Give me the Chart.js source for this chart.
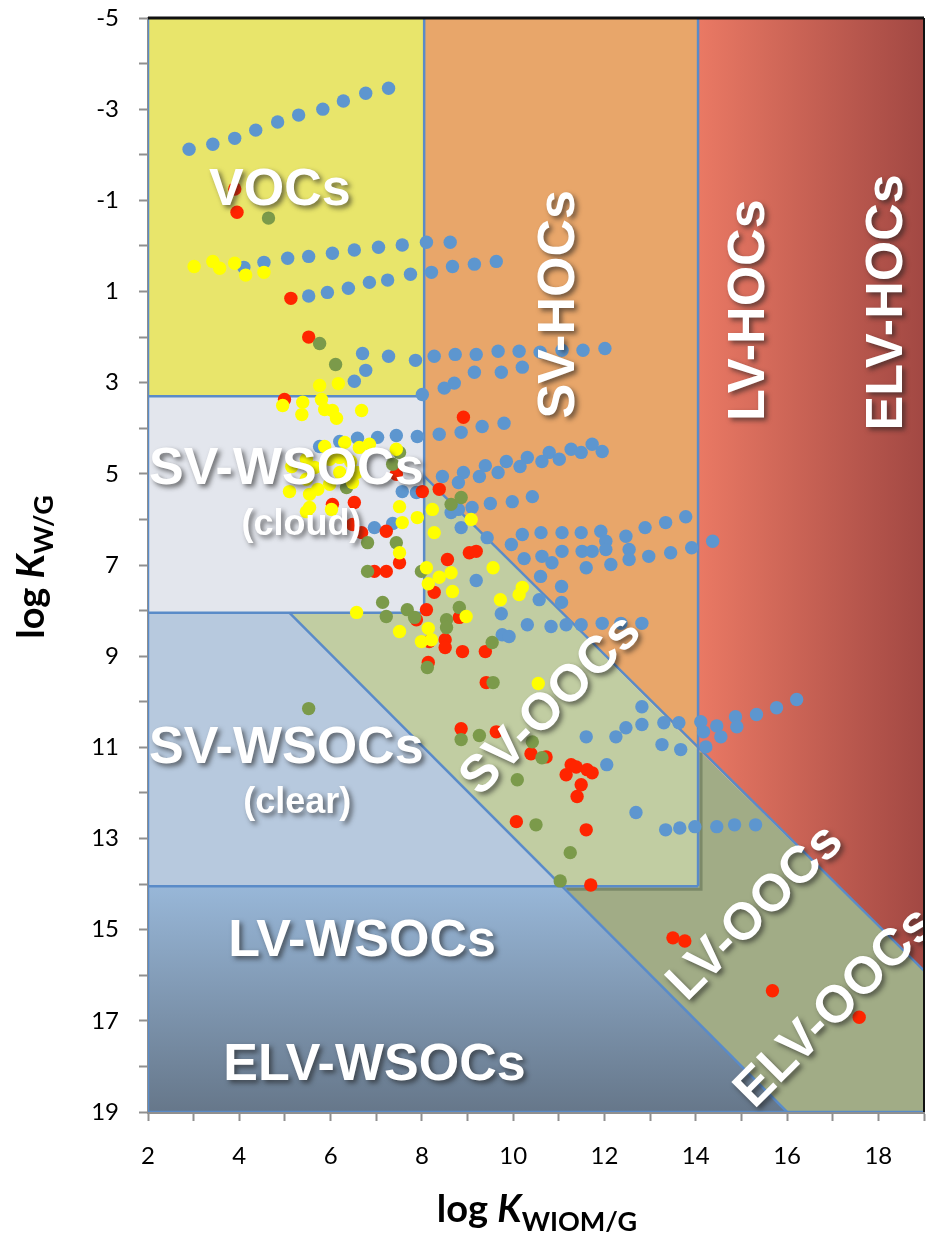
<!DOCTYPE html>
<html>
<head>
<meta charset="utf-8">
<script src="https://cdn.jsdelivr.net/npm/chart.js@4.4.1/dist/chart.umd.min.js"></script>
<style>
  html, body { margin: 0; padding: 0; background: #ffffff; }
  canvas { display: block; }
</style>
</head>
<body>
<canvas id="chart" width="938" height="1240"></canvas>
<script>
// ---- axis tick labels ----
const xTickLabels = [2, 4, 6, 8, 10, 12, 14, 16, 18];
const yTickLabels = [-5, -3, -1, 1, 3, 5, 7, 9, 11, 13, 15, 17, 19];

// ---- compounds: [log K_WIOM/G, log K_W/G] ----
const bluePoints = [
  [2.90,-2.12],[3.42,-2.23],[3.90,-2.36],[4.36,-2.54],[4.84,-2.72],[5.30,-2.87],[5.83,-3.00],[6.28,-3.18],[6.77,-3.35],[7.27,-3.46],
  [4.10,0.47],[4.54,0.36],[5.06,0.27],[5.52,0.23],[6.04,0.16],[6.52,0.09],[7.05,0.03],[7.57,-0.02],[8.10,-0.08],[8.62,-0.08],
  [5.52,1.10],[5.93,1.02],[6.39,0.93],[6.85,0.80],[7.25,0.75],[7.75,0.62],[8.21,0.58],[8.67,0.45],[9.15,0.40],[9.63,0.34],
  [6.70,2.36],[7.27,2.42],[7.86,2.51],[8.27,2.42],[8.73,2.38],[9.19,2.38],[9.67,2.31],[10.13,2.31],[10.59,2.33],[11.07,2.29],[11.53,2.29],[12.01,2.25],
  [6.52,2.97],[6.77,2.73],[8.01,3.26],[8.49,3.12],[8.71,3.01],[9.15,2.77],[9.74,2.77],[10.20,2.66],
  [5.76,4.40],[6.20,4.29],[6.59,4.22],[7.03,4.20],[7.44,4.16],[7.90,4.18],[8.38,4.13],[8.86,4.09],[9.32,3.96],[9.80,3.89],
  [8.91,4.97],[9.39,4.82],[9.85,4.73],[10.31,4.64],[10.79,4.53],[11.27,4.46],[11.73,4.35],
  [7.57,5.39],[7.88,5.41],[8.45,5.06],[8.80,5.19],[9.26,5.06],[9.67,4.97],[10.15,4.84],[10.63,4.73],[11.01,4.68],[11.49,4.53],[11.95,4.51],
  [8.64,5.85],[9.10,5.74],[9.50,5.65],[9.98,5.61],[10.42,5.50],[8.80,5.78],
  [9.43,6.40],[9.96,6.55],[10.20,6.33],[10.61,6.29],[11.07,6.29],[11.49,6.29],[11.92,6.26],[12.47,6.37],[12.89,6.18],[13.34,6.07],[13.78,5.94],
  [10.24,6.86],[10.63,6.81],[10.85,6.95],[11.07,6.70],[11.51,6.70],[11.60,7.06],[11.73,6.70],[12.03,6.48],[12.03,6.66],[12.14,6.99],
  [12.54,6.66],[12.54,6.88],[12.97,6.81],[13.45,6.73],[13.91,6.62],[14.37,6.48],
  [10.60,7.25],[11.06,7.47],[11.06,7.82],[10.57,7.76],[9.19,7.34],[8.86,6.18],[9.74,8.07],[9.76,8.53],[9.91,8.57],
  [6.96,6.18],[7.36,6.09],
  [10.31,8.31],[10.83,8.35],[11.16,8.31],[11.49,8.31],[11.95,8.28],[12.36,8.28],[12.82,8.28],
  [12.82,10.11],[12.47,10.57],[12.25,10.77],[11.60,10.77],[12.82,10.50],[12.05,11.38],[12.69,12.43],
  [13.30,10.46],[13.63,10.46],[14.11,10.44],[14.46,10.53],[14.87,10.33],[14.90,10.55],[15.33,10.28],[15.77,10.13],[16.21,9.95],
  [13.26,10.94],[13.67,11.05],[14.17,10.66],[14.22,10.99],[14.55,10.77],
  [13.34,12.81],[13.65,12.77],[13.98,12.74],[14.46,12.74],[14.85,12.70],[15.31,12.70]
];

const redPoints = [
  [3.90,-1.25],[3.95,-0.74],[5.13,1.15],[5.52,2.00],[4.99,3.37],[8.91,3.76],
  [7.44,5.01],[8.01,5.39],[8.38,5.34],[6.04,5.67],[6.52,5.63],[6.48,6.11],[6.68,6.29],[7.22,6.26],
  [7.51,6.95],[7.22,7.14],[6.96,7.14],[8.56,6.88],[9.04,6.73],[9.19,6.70],
  [8.27,7.60],[8.10,7.98],[7.88,8.20],[8.82,8.15],[8.51,8.64],[8.51,8.81],[8.89,8.90],[9.39,8.90],[8.16,8.68],[8.14,9.14],[9.41,9.58],
  [8.86,10.59],[9.63,10.66],[10.39,11.14],[10.72,11.21],
  [11.27,11.38],[11.38,11.43],[11.16,11.60],[11.62,11.49],[11.73,11.56],[11.49,11.82],[11.40,12.08],
  [10.07,12.63],[11.60,12.81],[11.70,14.02],
  [13.50,15.18],[13.76,15.25],[15.68,16.34],[17.58,16.92]
];

const greenPoints = [
  [4.64,-0.61],[5.76,2.14],[6.11,2.60],[7.51,4.53],[7.36,4.79],[6.35,5.30],[8.64,5.67],[8.86,5.52],
  [6.81,6.51],[7.44,6.51],[6.81,7.14],[7.99,7.14],[7.14,7.82],[7.22,8.13],[7.68,7.98],[7.84,8.15],
  [8.54,8.20],[8.54,8.37],[8.82,7.93],[9.54,8.70],[8.12,9.25],[9.56,9.58],[5.52,10.15],
  [8.86,10.83],[9.26,10.74],[10.42,10.88],[10.63,11.23],[10.09,11.71],[10.50,12.70],[11.25,13.31],[11.03,13.93]
];

const yellowPoints = [
  [3.01,0.45],[3.42,0.34],[3.57,0.49],[3.90,0.38],[4.14,0.64],[4.54,0.58],
  [5.76,3.06],[6.17,3.02],[4.95,3.50],[5.39,3.43],[5.37,3.70],[5.80,3.37],[5.87,3.59],[6.04,3.61],[6.13,3.78],[6.68,3.61],
  [5.87,4.40],[6.31,4.31],[6.63,4.42],[6.85,4.35],[7.44,4.46],[5.47,4.68],[5.98,4.68],[6.20,4.64],[6.44,4.73],[5.15,4.84],
  [5.65,4.86],[6.20,4.97],[6.57,4.97],[5.47,5.12],[5.98,5.23],[6.48,5.19],[5.10,5.39],[5.54,5.45],[5.72,5.34],[5.54,5.74],
  [6.02,5.78],[5.47,5.83],
  [7.51,5.72],[8.23,5.78],[7.90,5.96],[7.57,6.07],[8.27,6.29],[9.08,6.00],[7.51,6.73],
  [8.10,7.06],[8.38,7.27],[8.14,7.41],[8.64,7.17],[8.67,7.58],[9.56,7.06],[9.72,7.76],[10.13,7.65],[10.20,7.49],
  [6.57,8.04],[7.51,8.46],[8.14,8.39],[8.97,8.13],[7.99,8.68],[8.21,8.64],[10.55,9.60]
];

// ---- partitioning-space regions (vertices in axis units) ----
const vocsRegion      = [[2,-5],[8.05,-5],[8.05,3.3],[2,3.3]];
const cloudRegion     = [[2,3.3],[8.05,3.3],[8.05,8.05],[2,8.05]];
const clearRegion     = [[2,8.05],[5.1,8.05],[11.1,14.05],[2,14.05]];
const wsocLowRegion   = [[2,14.05],[11.1,14.05],[16,19],[2,19]];
const svHocRegion     = [[8.05,-5],[14.05,-5],[14.05,11.05],[8.05,5.05]];
const lvHocRegion     = [[14.05,-5],[19,-5],[19,15.9],[14.05,11.05]];
const svOocRegion     = [[5.1,8.05],[8.05,8.05],[8.05,5.05],[14.05,11.05],[14.05,14.05],[11.1,14.05]];
const lvOocRegion     = [[11.1,14.05],[14.05,14.05],[14.05,11.05],[19,15.9],[19,19],[16,19]];

const boundaryLines = [
  [[8.05,-5],[8.05,8.05]],
  [[2,3.3],[8.05,3.3]],
  [[2,8.05],[8.05,8.05]],
  [[2,14.05],[14.05,14.05]],
  [[14.05,-5],[14.05,14.05]],
  [[5.1,8.05],[16,19]],
  [[8.05,5.05],[19,15.9]],
  [[2,-5],[2,19]],
  [[2,19],[19,19]]
];

const regionNames = [
  { text: 'VOCs',      at: [4.89, -1.31], size: 52, angle: 0 },
  { text: 'SV-WSOCs',  at: [5.03, 4.82],  size: 52, angle: 0 },
  { text: '(cloud)',   at: [5.36, 6.05],  size: 36, angle: 0 },
  { text: 'SV-WSOCs',  at: [5.03, 10.94], size: 52, angle: 0 },
  { text: '(clear)',   at: [5.27, 12.15], size: 36, angle: 0 },
  { text: 'LV-WSOCs',  at: [6.69, 15.18], size: 52, angle: 0 },
  { text: 'ELV-WSOCs', at: [6.96, 17.90], size: 52, angle: 0 },
  { text: 'SV-HOCs',   at: [10.93, 1.28], size: 52, angle: -90 },
  { text: 'LV-HOCs',   at: [15.09, 1.41], size: 52, angle: -90 },
  { text: 'ELV-HOCs',  at: [18.10, 1.24], size: 52, angle: -90 },
  { text: 'SV-OOCs',   at: [10.77, 10.02], size: 52, angle: -45 },
  { text: 'LV-OOCs',   at: [15.25, 14.57], size: 52, angle: -45 },
  { text: 'ELV-OOCs',  at: [17.00, 16.65], size: 52, angle: -45 }
];

const toXY = arr => arr.map(([x, y]) => ({ x, y }));

function tracePolygon(ctx, xs, ys, pts) {
  ctx.beginPath();
  pts.forEach(([a, b], i) => {
    const px = xs.getPixelForValue(a), py = ys.getPixelForValue(b);
    if (i === 0) ctx.moveTo(px, py); else ctx.lineTo(px, py);
  });
  ctx.closePath();
}

const backdropPlugin = {
  id: 'backdrop',
  beforeDatasetsDraw(chart) {
    const { ctx, chartArea: ca, scales: { x, y } } = chart;
    ctx.save();
    ctx.beginPath();
    ctx.rect(ca.left, ca.top, ca.right - ca.left, ca.bottom - ca.top);
    ctx.clip();

    const hocGrad = ctx.createLinearGradient(x.getPixelForValue(14.05), 0, x.getPixelForValue(19), 0);
    hocGrad.addColorStop(0, '#ea7964');
    hocGrad.addColorStop(1, '#a24843');
    const wsocGrad = ctx.createLinearGradient(0, y.getPixelForValue(14.05), 0, y.getPixelForValue(19));
    wsocGrad.addColorStop(0, '#98b7d8');
    wsocGrad.addColorStop(1, '#66778a');

    const fills = [
      [vocsRegion, '#e8e56b'],
      [cloudRegion, '#e3e6ed'],
      [clearRegion, '#b7c9de'],
      [wsocLowRegion, wsocGrad],
      [svHocRegion, '#e8a66a'],
      [lvHocRegion, hocGrad],
      [lvOocRegion, '#a1ac86'],
      [svOocRegion, '#c1cda2']
    ];
    for (const [pts, fill] of fills) {
      tracePolygon(ctx, x, y, pts);
      ctx.fillStyle = fill;
      ctx.fill();
    }

    // soft shadow along the lower-right edges of the SV-OOC box
    ctx.save();
    ctx.strokeStyle = 'rgba(95,110,80,0.55)';
    ctx.lineWidth = 3;
    ctx.beginPath();
    ctx.moveTo(x.getPixelForValue(14.05) + 3, y.getPixelForValue(11.05) + 3);
    ctx.lineTo(x.getPixelForValue(14.05) + 3, y.getPixelForValue(14.05) + 3);
    ctx.lineTo(x.getPixelForValue(11.1) + 3, y.getPixelForValue(14.05) + 3);
    ctx.stroke();
    ctx.restore();

    ctx.strokeStyle = '#5a8bc8';
    ctx.lineWidth = 2.5;
    for (const [[a1, b1], [a2, b2]] of boundaryLines) {
      ctx.beginPath();
      ctx.moveTo(x.getPixelForValue(a1), y.getPixelForValue(b1));
      ctx.lineTo(x.getPixelForValue(a2), y.getPixelForValue(b2));
      ctx.stroke();
    }
    ctx.restore();
  },
  afterDatasetsDraw(chart) {
    const { ctx, chartArea: ca, scales: { x, y } } = chart;
    ctx.save();
    ctx.beginPath();
    ctx.rect(ca.left, ca.top, ca.right - ca.left, ca.bottom - ca.top);
    ctx.clip();
    for (const lab of regionNames) {
      ctx.save();
      ctx.translate(x.getPixelForValue(lab.at[0]), y.getPixelForValue(lab.at[1]));
      ctx.rotate(lab.angle * Math.PI / 180);
      ctx.font = `bold ${lab.size}px "Liberation Sans", Arial, sans-serif`;
      ctx.textAlign = 'center';
      ctx.textBaseline = 'alphabetic';
      ctx.shadowColor = 'rgba(30,30,30,0.6)';
      ctx.shadowBlur = 5;
      ctx.shadowOffsetX = 3;
      ctx.shadowOffsetY = 3;
      ctx.fillStyle = '#ffffff';
      ctx.fillText(lab.text, 0, lab.size * 0.358);
      ctx.restore();
    }
    ctx.restore();
  },
  afterDraw(chart) {
    const { ctx, chartArea: ca } = chart;
    ctx.save();
    // frame on top and right
    ctx.strokeStyle = '#111';
    ctx.lineWidth = 3;
    ctx.beginPath();
    ctx.moveTo(ca.left, ca.top);
    ctx.lineTo(ca.right, ca.top);
    ctx.stroke();
    ctx.lineWidth = 2;
    ctx.beginPath();
    ctx.moveTo(ca.right, ca.top);
    ctx.lineTo(ca.right, ca.bottom);
    ctx.stroke();

    // axis titles with subscripts
    const runsWidth = runs => runs.reduce((w, r) => { ctx.font = r.font; return w + ctx.measureText(r.text).width; }, 0);
    const drawRuns = (runs, cx, base) => {
      let px = cx - runsWidth(runs) / 2;
      ctx.textAlign = 'left';
      ctx.textBaseline = 'alphabetic';
      for (const r of runs) {
        ctx.font = r.font;
        ctx.fillText(r.text, px, base + r.dy);
        px += ctx.measureText(r.text).width;
      }
    };
    ctx.fillStyle = '#000';
    const xTitle = [
      { text: 'log ', font: 'bold 38px Lato, sans-serif', dy: 0 },
      { text: 'K', font: 'italic bold 38px Lato, sans-serif', dy: 0 },
      { text: 'WIOM/G', font: 'bold 27px Lato, sans-serif', dy: 9 }
    ];
    drawRuns(xTitle, 537, 1222);

    const yTitle = [
      { text: 'log ', font: 'bold 38px Lato, sans-serif', dy: 0 },
      { text: 'K', font: 'italic bold 38px Lato, sans-serif', dy: 0 },
      { text: 'W/G', font: 'bold 27px Lato, sans-serif', dy: 9 }
    ];
    ctx.translate(44, 567);
    ctx.rotate(-Math.PI / 2);
    drawRuns(yTitle, 0, 0);
    ctx.restore();
  }
};

const axisColor = '#8f8f8f';

new Chart(document.getElementById('chart').getContext('2d'), {
  type: 'scatter',
  data: {
    datasets: [
      { label: 'yellow', data: toXY(yellowPoints), backgroundColor: '#ffff00', order: 0 },
      { label: 'green',  data: toXY(greenPoints),  backgroundColor: '#7b9a4a', order: 1 },
      { label: 'red',    data: toXY(redPoints),    backgroundColor: '#ff2500', order: 2 },
      { label: 'blue',   data: toXY(bluePoints),   backgroundColor: '#5d96cf', order: 3 }
    ]
  },
  options: {
    responsive: false,
    animation: false,
    devicePixelRatio: 1,
    layout: { padding: { top: 18, right: 14, left: 0, bottom: 0 } },
    elements: { point: { radius: 6.7, borderWidth: 0, hoverRadius: 6.7 } },
    plugins: { legend: { display: false }, tooltip: { enabled: false } },
    scales: {
      x: {
        type: 'linear', min: 2, max: 19,
        ticks: {
          stepSize: 1, autoSkip: false, maxRotation: 0, padding: 21,
          color: '#000', font: { family: 'Lato', size: 24 },
          callback: v => xTickLabels.includes(v) ? String(v) : ''
        },
        grid: { drawOnChartArea: false, drawTicks: true, tickLength: 9, tickColor: axisColor, tickWidth: 2 },
        border: { display: true, color: axisColor, width: 3 },
        afterFit: s => { s.height = 128; s.paddingLeft = 0; s.paddingRight = 0; }
      },
      y: {
        type: 'linear', min: -5, max: 19, reverse: true,
        ticks: {
          stepSize: 1, autoSkip: false, padding: 20,
          color: '#000', font: { family: 'Lato', size: 24 },
          callback: v => yTickLabels.includes(v) ? String(v) : ''
        },
        grid: { drawOnChartArea: false, drawTicks: true, tickLength: 9, tickColor: axisColor, tickWidth: 2 },
        border: { display: true, color: axisColor, width: 3 },
        afterFit: s => { s.width = 148; s.paddingTop = 0; s.paddingBottom = 0; }
      }
    }
  },
  plugins: [backdropPlugin]
});
</script>
</body>
</html>
